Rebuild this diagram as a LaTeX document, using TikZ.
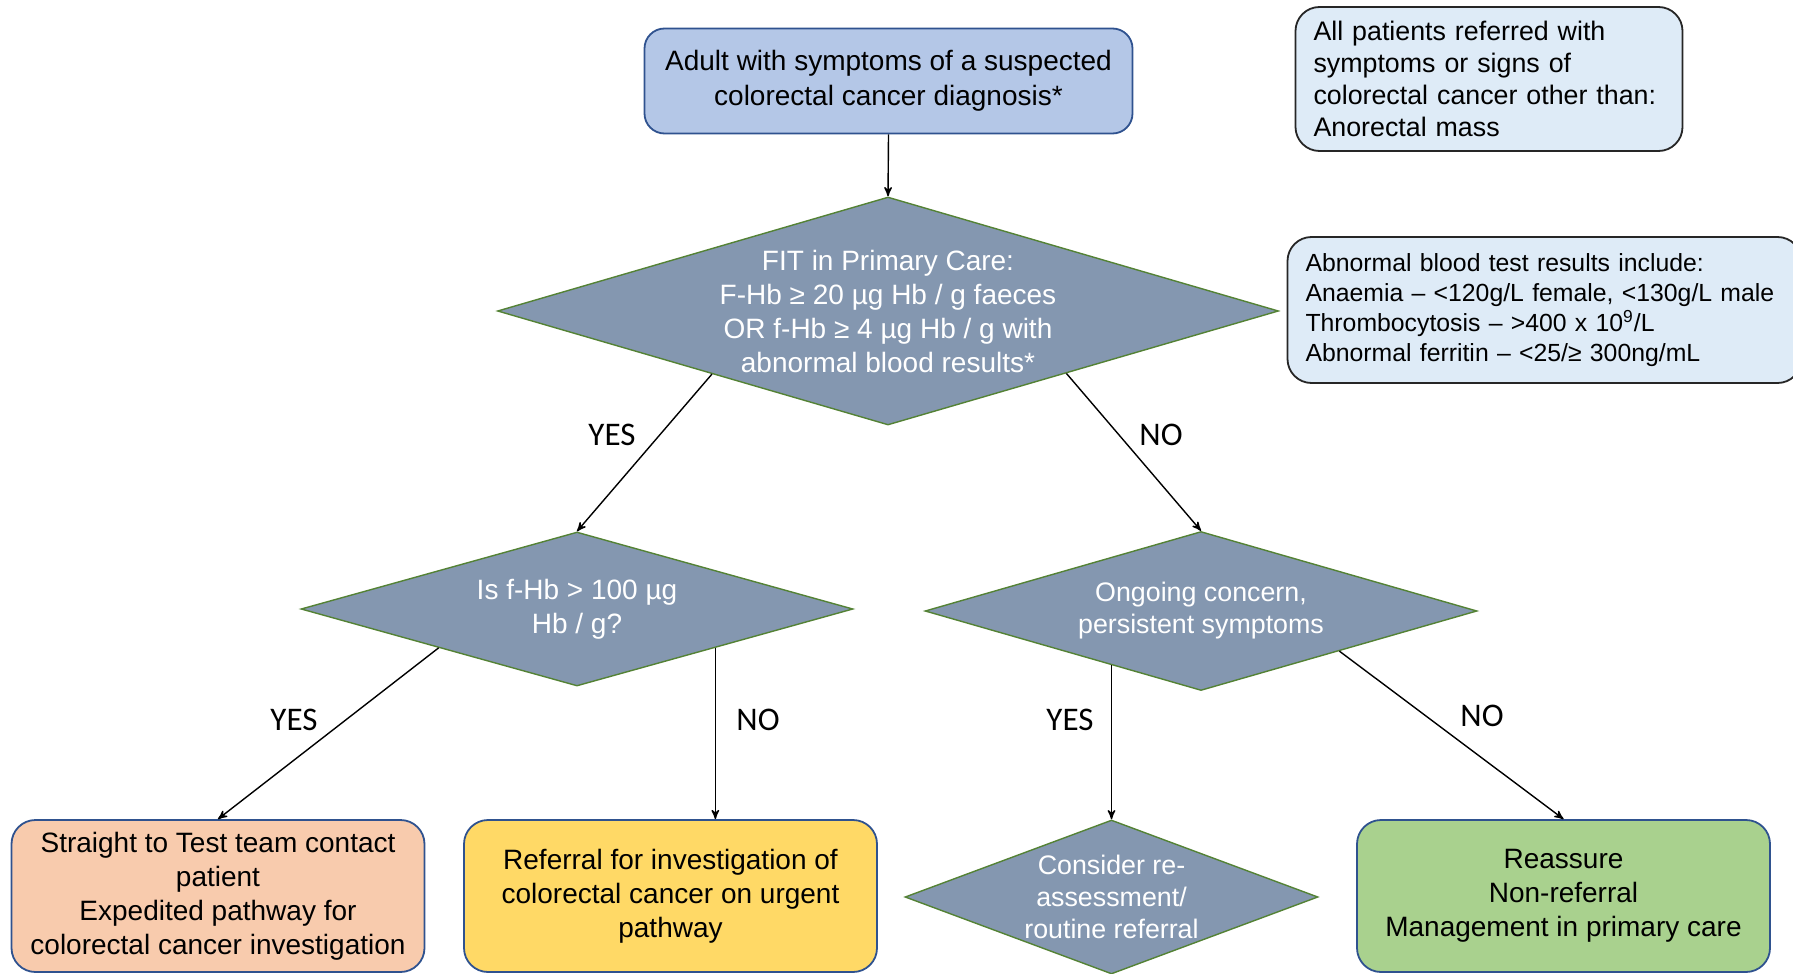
\documentclass[tikz,border=0pt]{standalone}
\usepackage{fontspec}
\setmainfont{Liberation Sans}
\newfontfamily\answerfont{Carlito}
\usetikzlibrary{arrows,shapes.geometric,calc}
\definecolor{entryblue}{HTML}{B4C7E7}
\definecolor{boxedge}{HTML}{2F528F}
\definecolor{remarkblue}{HTML}{DEEBF7}
\definecolor{diamondfill}{HTML}{8497B0}
\definecolor{diamondedge}{HTML}{548235}
\definecolor{fastorange}{HTML}{F8CBAD}
\definecolor{urgentyellow}{HTML}{FFD966}
\definecolor{safegreen}{HTML}{A9D18E}
\tikzset{
    %Define standard arrow tip
    >=stealth',
    %Define style for boxes
    entry/.style={
           rectangle,
           rounded corners=10pt,
           draw=boxedge, line width=0.9pt,
           minimum width=244pt,
           minimum height=52.5pt,
           font=\fontsize{14}{17.5}\selectfont,
           align=center,
           fill=entryblue},
    remark/.style={
           rectangle,
           rounded corners=12pt,
           draw=black!85, line width=0.9pt,
           inner xsep=9pt,
           align=left,
           fill=remarkblue},
    outcome/.style={
           rectangle,
           rounded corners=12pt,
           draw=boxedge, line width=0.9pt,
           minimum width=206.5pt,
           minimum height=76pt,
           font=\fontsize{14}{17}\selectfont,
           align=center},
    decision/.style={
           diamond,
           draw=diamondedge, line width=0.7pt,
           inner sep=0pt,
           fill=diamondfill},
    decisiontext/.style={
           text=white,
           align=center,
           font=\fontsize{14}{17}\selectfont},
    answer/.style={
           font=\answerfont\fontsize{16.5}{18}\selectfont},
    % Define arrow style
    flow/.style={
           ->,
           line width=0.7pt}
}
\begin{document}
\begin{tikzpicture}[x=0.5pt,y=-0.5pt]
\useasboundingbox (0,0) rectangle (1793,974);
 %nodes
\node[entry](start) at (888.5,81){Adult with symptoms of a suspected\\colorectal cancer diagnosis*};
\node[remark, minimum width=193.5pt, minimum height=72pt, text width=175.5pt,
  font=\fontsize{13.4}{16}\selectfont](referred) at (1489,79){All patients referred with\\symptoms or signs of\\colorectal cancer other than:\\Anorectal mass};
\node[remark, minimum width=257pt, minimum height=73pt, text width=239pt,
  font=\fontsize{12.4}{15}\selectfont](bloods) at (1544.5,310){Abnormal blood test results include:\\Anaemia – <120g/L female, <130g/L male\\Thrombocytosis – >400 x 10\textsuperscript{9}/L\\Abnormal ferritin – <25/≥ 300ng/mL};
\node[decision, minimum width=390.5pt, minimum height=114pt,
  label={[decisiontext]center:{FIT in Primary Care:\\F-Hb ≥ 20 µg Hb / g faeces\\OR f-Hb ≥ 4 µg Hb / g with\\abnormal blood results*}}](fit) at (888,311){};
\node[decision, minimum width=276pt, minimum height=77pt,
  label={[decisiontext]center:{Is f-Hb > 100 µg\\Hb / g?}}](fhb) at (577,609){};
\node[decision, minimum width=276pt, minimum height=79.5pt,
  label={[decisiontext, font=\fontsize{13.4}{16}\selectfont]center:{Ongoing concern,\\persistent symptoms}}](ongoing) at (1201,611){};
\node[decision, minimum width=206.5pt, minimum height=77pt,
  label={[decisiontext, font=\fontsize{13.4}{16}\selectfont]center:{Consider re-\\assessment/\\routine referral}}](consider) at (1111.5,897){};
\node[outcome, fill=fastorange](fast) at (218,896){Straight to Test team contact\\patient\\Expedited pathway for\\colorectal cancer investigation};
\node[outcome, fill=urgentyellow](urgent) at (670.5,896){Referral for investigation of\\colorectal cancer on urgent\\pathway};
\node[outcome, fill=safegreen](reassure) at (1563.5,896){Reassure\\Non-referral\\Management in primary care};
 %answers
\node[answer](fityes) at (612,435){YES};
\node[answer](fitno) at (1161,435){NO};
\node[answer](fhbyes) at (294,720){YES};
\node[answer](fhbno) at (758,720){NO};
\node[answer](ongoingyes) at (1070,720){YES};
\node[answer](ongoingno) at (1482,716){NO};
 %edges
\coordinate (fitleft) at ($(fit.west)!0.55!(fit.south)$);
\coordinate (fitright) at ($(fit.east)!0.544!(fit.south)$);
\coordinate (fhbleft) at ($(fhb.west)!0.5!(fhb.south)$);
\coordinate (fhbright) at ($(fhb.south)!0.5!(fhb.east)$);
\coordinate (ongoingleft) at ($(ongoing.west)!0.674!(ongoing.south)$);
\coordinate (ongoingright) at ($(ongoing.south)!0.5!(ongoing.east)$);
\path[flow]
    (start.south) edge (fit.north)
    (fitleft) edge (fhb.north)
    (fitright) edge (ongoing.north)
    (fhbleft) edge (fast.north)
    (fhbright) edge (fhbright |- urgent.north)
    (consider.north |- ongoingleft) edge (consider.north)
    (ongoingright) edge (reassure.north);
\end{tikzpicture}
\end{document}
